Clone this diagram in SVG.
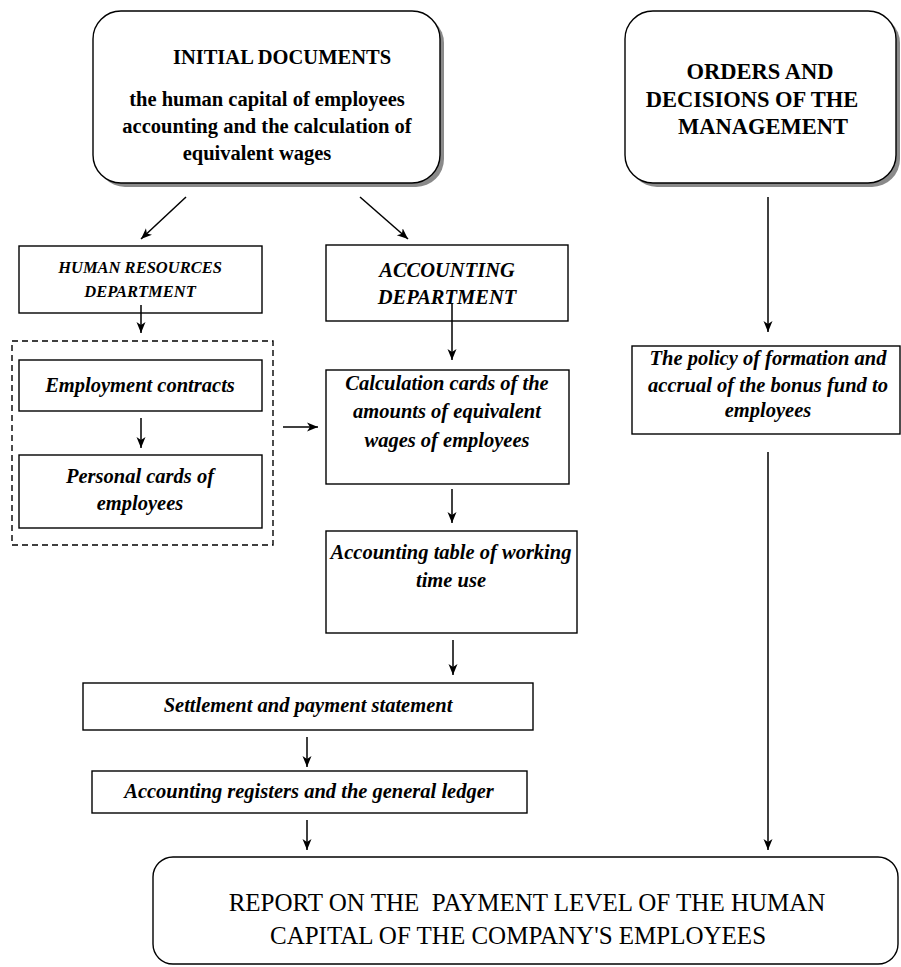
<svg xmlns="http://www.w3.org/2000/svg" width="901" height="967" viewBox="0 0 901 967">
<style>
  text { font-family: "Liberation Serif", "Times New Roman", serif; fill: #000; text-anchor: middle; }
  .b { font-weight: bold; font-size: 20.5px; }
  .bi { font-weight: bold; font-style: italic; font-size: 20.5px; }
  .bis { font-weight: bold; font-style: italic; font-size: 16.5px; }
  .big { font-weight: bold; font-size: 22.5px; }
  .rep { font-size: 25px; }
  .box { fill: #fff; stroke: #000; stroke-width: 1.4; }
  .shadow { fill: #8a8a8a; stroke: none; }
  .dash { fill: none; stroke: #000; stroke-width: 1.4; stroke-dasharray: 6 4; }
  .conn line { stroke: #000; stroke-width: 1.5; marker-end: url(#ah); }
</style>
<defs>
  <marker id="ah" markerUnits="userSpaceOnUse" markerWidth="12" markerHeight="10" refX="11" refY="5" orient="auto">
    <path d="M0,0.5 L11,5 L0,9.5 L3,5 z" fill="#000"/>
  </marker>
</defs>

<g id="initial-documents">
  <rect class="shadow" x="97" y="15" width="347" height="172" rx="28"/>
  <rect class="box" x="93" y="11" width="347" height="172" rx="28"/>
  <text class="b" x="282" y="64">INITIAL DOCUMENTS</text>
  <text class="b" x="267" y="106">the human capital of employees</text>
  <text class="b" x="267" y="133">accounting and the calculation of</text>
  <text class="b" x="257" y="160">equivalent wages</text>
</g>

<g id="orders">
  <rect class="shadow" x="629" y="15" width="271" height="172" rx="28"/>
  <rect class="box" x="625" y="11" width="271" height="172" rx="28"/>
  <text class="big" x="760" y="79">ORDERS AND</text>
  <text class="big" x="752" y="107">DECISIONS OF THE</text>
  <text class="big" x="763" y="134">MANAGEMENT</text>
</g>

<g id="hr-department">
  <rect class="box" x="19" y="246" width="243" height="67"/>
  <text class="bis" x="140" y="273">HUMAN RESOURCES</text>
  <text class="bis" x="140" y="297">DEPARTMENT</text>
</g>

<g id="hr-documents">
  <rect class="dash" x="12" y="341" width="261" height="204"/>
</g>

<g id="employment-contracts">
  <rect class="box" x="19" y="360" width="243" height="51"/>
  <text class="bi" x="140" y="392">Employment contracts</text>
</g>

<g id="personal-cards">
  <rect class="box" x="19" y="455" width="243" height="73"/>
  <text class="bi" x="140" y="483">Personal cards of</text>
  <text class="bi" x="140" y="510">employees</text>
</g>

<g id="accounting-department">
  <rect class="box" x="326" y="245" width="242" height="76"/>
  <text class="bi" x="447" y="277">ACCOUNTING</text>
  <text class="bi" x="447" y="304">DEPARTMENT</text>
</g>

<g id="calculation-cards">
  <rect class="box" x="326" y="370" width="243" height="114"/>
  <text class="bi" x="447" y="390">Calculation cards of the</text>
  <text class="bi" x="447" y="418">amounts of equivalent</text>
  <text class="bi" x="447" y="447">wages of employees</text>
</g>

<g id="accounting-table">
  <rect class="box" x="326" y="531" width="251" height="102"/>
  <text class="bi" x="451" y="559">Accounting table of working</text>
  <text class="bi" x="451" y="587">time use</text>
</g>

<g id="settlement">
  <rect class="box" x="83" y="683" width="450" height="47"/>
  <text class="bi" x="308" y="712">Settlement and payment statement</text>
</g>

<g id="registers">
  <rect class="box" x="92" y="771" width="435" height="42"/>
  <text class="bi" x="309" y="798">Accounting registers and the general ledger</text>
</g>

<g id="policy">
  <rect class="box" x="632" y="346" width="268" height="88"/>
  <text class="bi" x="768" y="365">The policy of formation and</text>
  <text class="bi" x="768" y="392">accrual of the bonus fund to</text>
  <text class="bi" x="768" y="417">employees</text>
</g>

<g id="report">
  <rect class="box" x="153" y="857" width="745" height="107" rx="20"/>
  <text class="rep" x="527" y="911" xml:space="preserve">REPORT ON THE  PAYMENT LEVEL OF THE HUMAN</text>
  <text class="rep" x="518" y="944">CAPITAL OF THE COMPANY'S EMPLOYEES</text>
</g>

<g id="connectors" class="conn">
  <line x1="186" y1="197" x2="141" y2="239"/>
  <line x1="360" y1="197" x2="408" y2="239"/>
  <line x1="141" y1="305" x2="141" y2="333"/>
  <line x1="141" y1="418" x2="141" y2="448"/>
  <line x1="283" y1="427" x2="318" y2="427"/>
  <line x1="452" y1="303" x2="452" y2="360"/>
  <line x1="452" y1="489" x2="452" y2="523"/>
  <line x1="453" y1="640" x2="453" y2="675"/>
  <line x1="307" y1="737" x2="307" y2="767"/>
  <line x1="307" y1="820" x2="307" y2="850"/>
  <line x1="768" y1="197" x2="768" y2="332"/>
  <line x1="768" y1="452" x2="768" y2="850"/>
</g>
</svg>
